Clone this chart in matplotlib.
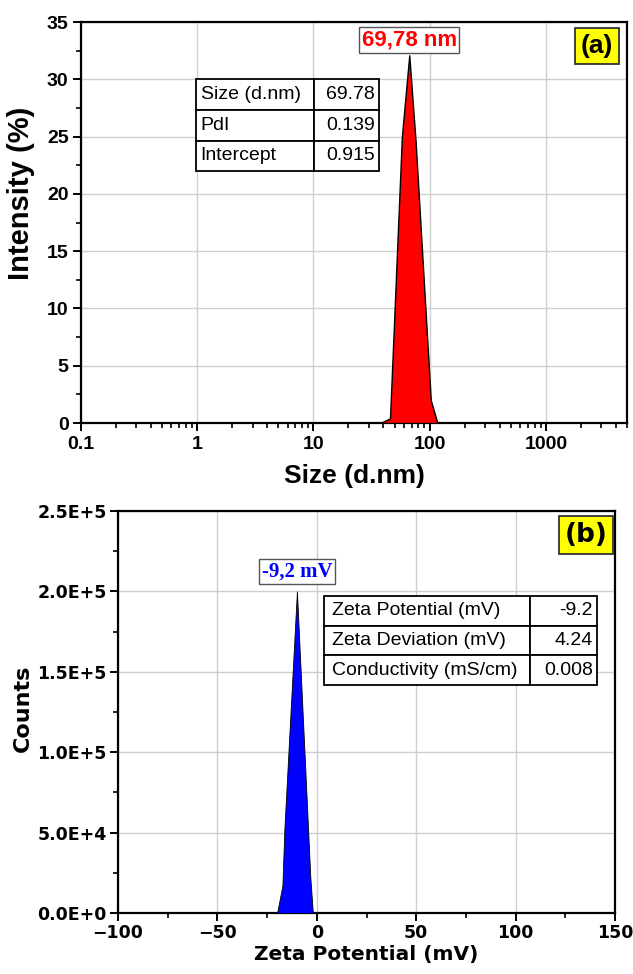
import matplotlib
matplotlib.use("Agg")
import matplotlib.pyplot as plt
from matplotlib.ticker import FixedLocator, LogLocator, NullFormatter, MultipleLocator

# --- Data: (a) DLS size distribution ---
size_nm = [39.4, 45.6, 57.7, 66.8, 75.6, 102.3, 116.7]
intensity = [0.1, 0.4, 25.0, 32.1, 24.7, 2.0, 0.0]
size_peak_label = "69,78 nm"
size_table = [["Size (d.nm)", "69.78"], ["PdI", "0.139"], ["Intercept", "0.915"]]
size_ticks = [0.1, 1, 10, 100, 1000]
size_ticklabels = ["0.1", "1", "10", "100", "1000"]

# --- Data: (b) zeta potential distribution ---
zeta_mv = [-20.0, -17.3, -16.3, -10.0, -4.4, -3.3, -2.0]
counts = [0, 17000, 52500, 200000, 52500, 23000, 0]
zeta_peak_label = "-9,2 mV"
zeta_table = [["Zeta Potential (mV)", "-9.2"], ["Zeta Deviation (mV)", "4.24"],
              ["Conductivity (mS/cm)", "0.008"]]
count_ticks = [0, 50000, 100000, 150000, 200000, 250000]
count_ticklabels = ["0.0E+0", "5.0E+4", "1.0E+5", "1.5E+5", "2.0E+5", "2.5E+5"]

SANS = ["Liberation Sans", "DejaVu Sans"]
WIDE = ["DejaVu Sans"]
GRID = "#cfcfcf"

fig = plt.figure(figsize=(6.33, 9.74), dpi=100)
ax1 = fig.add_axes([0.128, 0.5657, 0.8626, 0.4117])
ax2 = fig.add_axes([0.1864, 0.0626, 0.7852, 0.4127])


def style_axes(ax):
    for s in ax.spines.values():
        s.set_linewidth(1.6)
        s.set_color("black")
    ax.tick_params(which="major", direction="out", length=6, width=1.4,
                   top=False, right=False)
    ax.tick_params(which="minor", direction="out", length=3.5, width=1.2,
                   top=False, right=False)
    ax.grid(True, which="major", color=GRID, linewidth=1.0)
    ax.set_axisbelow(True)


def add_table(ax, rows, bbox, col_widths, fontsize):
    tb = ax.table(cellText=rows, colWidths=col_widths, bbox=bbox, zorder=5)
    tb.auto_set_font_size(False)
    for (r, c), cell in tb.get_celld().items():
        cell.set_linewidth(1.3)
        cell.set_edgecolor("black")
        cell.set_facecolor("white")
        txt = cell.get_text()
        txt.set_fontsize(fontsize)
        txt.set_family(["Liberation Sans", "DejaVu Sans"])
        if c == 0:
            cell._loc = "left"
            txt.set_ha("left")
            cell.PAD = 0.04
        else:
            cell._loc = "right"
            txt.set_ha("right")
            cell.PAD = 0.06
    return tb


# ======================= (a) =======================
style_axes(ax1)
ax1.fill_between(size_nm, intensity, 0, color="#ff0000", edgecolor="black",
                 linewidth=1.0, zorder=3)
ax1.set_xscale("log")
ax1.set_xlim(0.1, 5000)
ax1.set_ylim(0, 35)
ax1.xaxis.set_major_locator(FixedLocator(size_ticks))
ax1.set_xticklabels(size_ticklabels)
ax1.xaxis.set_minor_locator(LogLocator(base=10, subs=range(2, 10)))
ax1.xaxis.set_minor_formatter(NullFormatter())
ax1.yaxis.set_major_locator(MultipleLocator(5))
ax1.yaxis.set_minor_locator(MultipleLocator(2.5))
ax1.tick_params(axis="both", which="major", labelsize=14, pad=3)
for lab in ax1.get_xticklabels() + ax1.get_yticklabels():
    lab.set_family(SANS)
    lab.set_fontweight("bold")

ax1.set_xlabel("Size (d.nm)", fontsize=19, fontweight="bold", family=SANS)
ax1.xaxis.set_label_coords(0.5, -0.103)
ax1.set_ylabel("Intensity (%)", fontsize=21, fontweight="bold", family=SANS)
ax1.yaxis.set_label_coords(-0.085, 0.574)

i_pk = intensity.index(max(intensity))
ax1.annotate(size_peak_label, xy=(size_nm[i_pk], intensity[i_pk]),
             xytext=(0, 11), textcoords="offset points", ha="center", va="center",
             color="#ff0000", fontsize=16, fontweight="bold",
             family=["Liberation Sans Narrow", "Liberation Sans"],
             bbox=dict(boxstyle="square,pad=0.12", fc="white", ec="#555555", lw=1.0),
             zorder=6)

add_table(ax1, size_table, [0.2106, 0.628, 0.335, 0.229], [0.645, 0.355], 14)

ax1.text(0.945, 0.94, "(a)", transform=ax1.transAxes, ha="center", va="center",
         fontsize=19, fontweight="bold", family=SANS,
         bbox=dict(boxstyle="square,pad=0.22", fc="#ffff00", ec="#333333", lw=1.3),
         zorder=6)

# ======================= (b) =======================
style_axes(ax2)
ax2.fill_between(zeta_mv, counts, 0, color="#0000ff", edgecolor="black",
                 linewidth=0.6, zorder=3)
ax2.set_xlim(-100, 150)
ax2.set_ylim(0, 250000)
ax2.xaxis.set_major_locator(MultipleLocator(50))
ax2.xaxis.set_minor_locator(MultipleLocator(25))
ax2.yaxis.set_major_locator(FixedLocator(count_ticks))
ax2.set_yticklabels(count_ticklabels)
ax2.yaxis.set_minor_locator(MultipleLocator(25000))
ax2.tick_params(axis="both", which="major", labelsize=12.5, pad=2)
for lab in ax2.get_xticklabels() + ax2.get_yticklabels():
    lab.set_family(WIDE)
    lab.set_fontweight("bold")

ax2.set_xlabel("Zeta Potential (mV)", fontsize=14.5, fontweight="bold", family=WIDE)
ax2.xaxis.set_label_coords(0.5, -0.08)
ax2.set_ylabel("Counts", fontsize=16, fontweight="bold", family=WIDE)
ax2.yaxis.set_label_coords(-0.171, 0.51)

c_pk = counts.index(max(counts))
ax2.annotate(zeta_peak_label, xy=(zeta_mv[c_pk], counts[c_pk]),
             xytext=(0, 14.5), textcoords="offset points", ha="center", va="center",
             color="#0000ff", fontsize=15, fontweight="bold", family=["Liberation Serif"],
             bbox=dict(boxstyle="square,pad=0.12", fc="white", ec="#555555", lw=1.0),
             zorder=6)

add_table(ax2, zeta_table, [0.4145, 0.567, 0.549, 0.2214], [0.755, 0.245], 14)

ax2.text(0.9416, 0.94, "(b)", transform=ax2.transAxes, ha="center", va="center",
         fontsize=19, fontweight="bold", family=WIDE,
         bbox=dict(boxstyle="square,pad=0.22", fc="#ffff00", ec="#333333", lw=1.3),
         zorder=6)

fig.savefig("out.png", dpi=100, facecolor="white")
